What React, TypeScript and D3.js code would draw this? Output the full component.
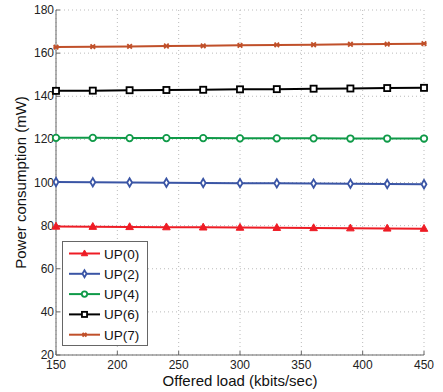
import React from "react";
import * as d3 from "d3";

const xLoads = [150, 180, 210, 240, 270, 300, 330, 360, 390, 420, 450];
const up0 = [79.6, 79.5, 79.4, 79.3, 79.2, 79.1, 79.0, 78.9, 78.8, 78.7, 78.6];
const up2 = [100.2, 100.1, 100.0, 99.9, 99.8, 99.7, 99.6, 99.5, 99.4, 99.3, 99.2];
const up4 = [120.7, 120.7, 120.6, 120.6, 120.6, 120.5, 120.5, 120.5, 120.4, 120.4, 120.4];
const up6 = [142.5, 142.6, 142.8, 142.9, 143.0, 143.2, 143.3, 143.5, 143.6, 143.8, 143.9];
const up7 = [162.8, 163.0, 163.1, 163.3, 163.4, 163.6, 163.8, 163.9, 164.1, 164.2, 164.4];
const seriesNames = ["UP(0)", "UP(2)", "UP(4)", "UP(6)", "UP(7)"];
const seriesColors = ["#ee1c25", "#3a55a5", "#0f9a48", "#000000", "#c0502a"];
const seriesMarkers = ["triangle", "diamond", "circle", "square", "x"];
const xTicks = [150, 200, 250, 300, 350, 400, 450];
const yTicks = [20, 40, 60, 80, 100, 120, 140, 160, 180];

const allSeries = [up0, up2, up4, up6, up7];

function Marker({ type, x, y, color, s }: { type: string; x: number; y: number; color: string; s: number }) {
  if (type === "triangle") {
    const p = [[x, y - s * 1.1], [x - s, y + s * 0.7], [x + s, y + s * 0.7]];
    return <polygon points={p.map((q) => q.join(",")).join(" ")} fill={color} stroke={color} strokeWidth={1} />;
  }
  if (type === "diamond") {
    const p = [[x, y - s * 1.1], [x - s * 0.65, y], [x, y + s * 1.1], [x + s * 0.65, y]];
    return <polygon points={p.map((q) => q.join(",")).join(" ")} fill="white" stroke={color} strokeWidth={1.8} />;
  }
  if (type === "circle") {
    return <circle cx={x} cy={y} r={s * 0.85} fill="white" stroke={color} strokeWidth={1.8} />;
  }
  if (type === "square") {
    return <rect x={x - s * 0.8} y={y - s * 0.8} width={s * 1.6} height={s * 1.6} fill="white" stroke={color} strokeWidth={1.8} />;
  }
  return (
    <g stroke={color} strokeWidth={1.8}>
      <line x1={x - s * 0.6} y1={y - s * 0.6} x2={x + s * 0.6} y2={y + s * 0.6} />
      <line x1={x - s * 0.6} y1={y + s * 0.6} x2={x + s * 0.6} y2={y - s * 0.6} />
      <line x1={x - s * 0.7} y1={y} x2={x + s * 0.7} y2={y} />
    </g>
  );
}

export default function App() {
  const W = 443, H = 392;
  const left = 56, right = 424, top = 10, bottom = 355;
  const x = d3.scaleLinear().domain([150, 450]).range([left, right]);
  const y = d3.scaleLinear().domain([20, 180]).range([bottom, top]);
  const line = d3.line<number>().x((_, i) => x(xLoads[i])).y((d) => y(d));
  const font = "Helvetica, 'Liberation Sans', Arial, sans-serif";

  const legX = 62.5, legY = 241.5, legW = 85, legH = 104;
  return (
    <svg width={W} height={H} style={{ position: "absolute", left: 0, top: 0, background: "white" }} fontFamily={font}>
      <rect width={W} height={H} fill="white" />
      {xTicks.map((t) => (
        <line key={"gx" + t} x1={x(t)} x2={x(t)} y1={top} y2={bottom} stroke="#bbb" strokeWidth={1} strokeDasharray="1,3" />
      ))}
      {yTicks.map((t) => (
        <line key={"gy" + t} x1={left} x2={right} y1={y(t)} y2={y(t)} stroke="#bbb" strokeWidth={1} strokeDasharray="1,3" />
      ))}
      <line x1={left} x2={left} y1={top} y2={bottom} stroke="#666" strokeWidth={1} />
      <line x1={left} x2={right} y1={bottom} y2={bottom} stroke="#666" strokeWidth={1} />
      {xTicks.map((t) => (
        <g key={"tx" + t}>
          <line x1={x(t)} x2={x(t)} y1={bottom} y2={bottom - 4} stroke="#666" />
          <text x={x(t)} y={bottom + 14} fontSize={12} textAnchor="middle" fill="#222">{t}</text>
        </g>
      ))}
      {yTicks.map((t) => (
        <g key={"ty" + t}>
          <line x1={left} x2={left + 4} y1={y(t)} y2={y(t)} stroke="#666" />
          <text x={left - 2} y={y(t) + 4} fontSize={12} textAnchor="end" fill="#222">{t}</text>
        </g>
      ))}
      <text x={240} y={386} fontSize={15} textAnchor="middle" fill="#111">Offered load (kbits/sec)</text>
      <text transform={`translate(26,${(top + bottom) / 2}) rotate(-90)`} fontSize={15} textAnchor="middle" fill="#111">Power consumption (mW)</text>
      {allSeries.map((s, k) => (
        <g key={"s" + k}>
          <path d={line(s) || ""} fill="none" stroke={seriesColors[k]} strokeWidth={2} />
          {s.map((v, i) => (
            <Marker key={i} type={seriesMarkers[k]} x={x(xLoads[i])} y={y(v)} color={seriesColors[k]} s={3.8} />
          ))}
        </g>
      ))}
      <rect x={legX} y={legY} width={legW} height={legH} fill="white" stroke="#666" strokeWidth={1} />
      {seriesNames.map((n, k) => {
        const yy = legY + 12 + k * 20.3;
        return (
          <g key={"l" + k}>
            <line x1={69} x2={100} y1={yy} y2={yy} stroke={seriesColors[k]} strokeWidth={2} />
            <Marker type={seriesMarkers[k]} x={84.5} y={yy} color={seriesColors[k]} s={3.2} />
            <text x={104} y={yy + 5} fontSize={13.5} fill="#111">{n}</text>
          </g>
        );
      })}
    </svg>
  );
}
